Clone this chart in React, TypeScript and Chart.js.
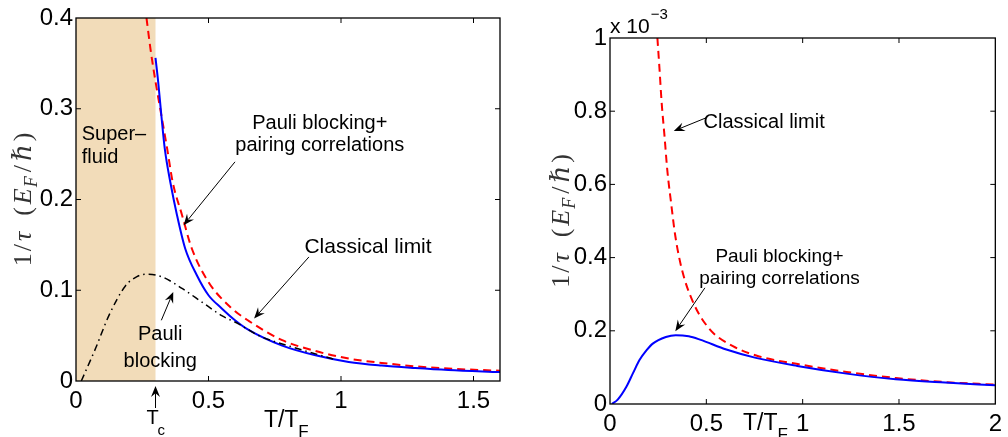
import { useEffect, useRef } from "react";
import { Chart, registerables } from "chart.js";

Chart.register(...registerables);

// ---------- Left panel: relaxation rate 1/τ in units of E_F/ħ ----------
const leftXTicks = [0, 0.5, 1, 1.5];
const leftYTicks = [0, 0.1, 0.2, 0.3, 0.4];
const criticalT = 0.3; // T_c / T_F, edge of the superfluid region

// Pauli blocking only (black dash-dot)
const leftPauliT = [0.02, 0.074, 0.124, 0.187, 0.23, 0.266, 0.325, 0.4, 0.475, 0.55, 0.613, 0.69, 0.816, 0.979];
const leftPauliRate = [0.0, 0.036, 0.072, 0.105, 0.115, 0.1176, 0.1147, 0.102, 0.087, 0.072, 0.063, 0.05, 0.0375, 0.0236];

// Pauli blocking + pairing correlations (blue)
const leftPairT = [0.3, 0.31, 0.322, 0.335, 0.356, 0.381, 0.412, 0.456, 0.5, 0.55, 0.6, 0.653, 0.778, 0.904, 1.029, 1.154, 1.28, 1.405, 1.6];
const leftPairRate = [0.356, 0.33, 0.293, 0.256, 0.219, 0.183, 0.146, 0.1165, 0.0945, 0.08, 0.067, 0.056, 0.039, 0.0283, 0.021, 0.017, 0.0143, 0.0121, 0.0098];

// Classical limit (red dashed)
const leftClassicalT = [0.266, 0.281, 0.3, 0.322, 0.344, 0.365, 0.4, 0.437, 0.5, 0.588, 0.653, 0.778, 0.904, 1.029, 1.154, 1.28, 1.405, 1.6];
const leftClassicalRate = [0.4, 0.366, 0.33, 0.293, 0.256, 0.219, 0.183, 0.146, 0.109, 0.08, 0.066, 0.045, 0.033, 0.0247, 0.0199, 0.0162, 0.0137, 0.0113];

// ---------- Right panel: values in units of 10^-3 E_F/ħ ----------
const rightXTicks = [0, 0.5, 1, 1.5, 2];
const rightYTicks = [0, 0.2, 0.4, 0.6, 0.8, 1];

const rightPairT = [0.01, 0.04, 0.085, 0.12, 0.153, 0.19, 0.222, 0.29, 0.341, 0.409, 0.467, 0.604, 0.757, 0.972, 1.228, 1.483, 1.739, 2.0];
const rightPairRate = [0.0, 0.012, 0.047, 0.085, 0.12, 0.147, 0.165, 0.183, 0.188, 0.185, 0.176, 0.149, 0.126, 0.104, 0.083, 0.0676, 0.0585, 0.051];

const rightClassicalT = [0.246, 0.257, 0.268, 0.283, 0.297, 0.317, 0.339, 0.373, 0.433, 0.518, 0.638, 0.774, 0.975, 1.228, 1.483, 1.739, 2.0];
const rightClassicalRate = [1.0, 0.915, 0.824, 0.732, 0.641, 0.55, 0.459, 0.368, 0.276, 0.204, 0.158, 0.13, 0.109, 0.0876, 0.0711, 0.06, 0.053];

const SANS = '"Liberation Sans", Arial, Helvetica, sans-serif';
const SERIF = '"Liberation Serif", "DejaVu Serif", serif';
const BLUE = "#0000ff";
const RED = "#ff0000";
const SUPERFLUID = "#f2dcb9";
const TICK_SIZE = 24;

type XY = [number, number];
type Note = { lines: string[]; at: XY; size: number; step: number; align: CanvasTextAlign };
type Pointer = { from: XY; to: XY };

const pts = (xs: number[], ys: number[]) => xs.map((x, i) => ({ x, y: ys[i] }));

function drawArrow(ctx: CanvasRenderingContext2D, x0: number, y0: number, x1: number, y1: number) {
  const ang = Math.atan2(y1 - y0, x1 - x0);
  const c = Math.cos(ang), s = Math.sin(ang);
  const head = 11, half = 4.5;
  const nx = x1 - head * 0.65 * c, ny = y1 - head * 0.65 * s;
  ctx.beginPath();
  ctx.moveTo(x0, y0);
  ctx.lineTo(nx, ny);
  ctx.lineWidth = 1;
  ctx.strokeStyle = "#000";
  ctx.stroke();
  const bx = x1 - head * c, by = y1 - head * s;
  ctx.beginPath();
  ctx.moveTo(x1, y1);
  ctx.lineTo(bx - half * s, by + half * c);
  ctx.lineTo(nx, ny);
  ctx.lineTo(bx + half * s, by - half * c);
  ctx.closePath();
  ctx.fillStyle = "#000";
  ctx.fill();
}

// y-axis title: 1/τ  (E_F/ħ), set like math text and rotated
function drawRateTitle(ctx: CanvasRenderingContext2D, cx: number, cy: number, size: number) {
  const parts = [
    { t: "1", it: false, sub: false, after: 2 },
    { t: "/", it: false, sub: false, after: 3 },
    { t: "τ", it: true, sub: false, after: 16 },
    { t: "(", it: false, sub: false, after: 3 },
    { t: "E", it: true, sub: false, after: 1 },
    { t: "F", it: true, sub: true, after: 4 },
    { t: "/", it: false, sub: false, after: 4 },
    { t: "ℏ", it: true, sub: false, after: 3 },
    { t: ")", it: false, sub: false, after: 0 },
  ];
  const fontOf = (p: { it: boolean; sub: boolean }) =>
    `${p.it ? "italic " : ""}${p.sub ? Math.round(size * 0.7) : size}px ${SERIF}`;
  ctx.save();
  let total = 0;
  for (const p of parts) {
    ctx.font = fontOf(p);
    total += ctx.measureText(p.t).width + p.after;
  }
  ctx.translate(cx, cy);
  ctx.rotate(-Math.PI / 2);
  ctx.fillStyle = "#333";
  ctx.textBaseline = "alphabetic";
  ctx.textAlign = "left";
  let x = -total / 2;
  const base = size * 0.33;
  for (const p of parts) {
    ctx.font = fontOf(p);
    ctx.fillText(p.t, x, p.sub ? base + size * 0.25 : base);
    x += ctx.measureText(p.t).width + p.after;
  }
  ctx.restore();
}

function drawFrame(chart: any, xTicks: number[], yTicks: number[]) {
  const { ctx, chartArea: a } = chart;
  const xs = chart.scales.x, ys = chart.scales.y;
  ctx.save();
  ctx.strokeStyle = "#000";
  ctx.lineWidth = 1.3;
  ctx.strokeRect(a.left, a.top, a.right - a.left, a.bottom - a.top);
  const L = 5;
  ctx.beginPath();
  for (const v of xTicks) {
    const px = xs.getPixelForValue(v);
    if (px <= a.left + 1 || px >= a.right - 1) continue;
    ctx.moveTo(px, a.bottom); ctx.lineTo(px, a.bottom - L);
    ctx.moveTo(px, a.top); ctx.lineTo(px, a.top + L);
  }
  for (const v of yTicks) {
    const py = ys.getPixelForValue(v);
    if (py <= a.top + 1 || py >= a.bottom - 1) continue;
    ctx.moveTo(a.left, py); ctx.lineTo(a.left + L, py);
    ctx.moveTo(a.right, py); ctx.lineTo(a.right - L, py);
  }
  ctx.lineWidth = 1;
  ctx.stroke();
  ctx.restore();
}

function drawNotes(chart: any, notes: Note[], pointers: Pointer[]) {
  const { ctx } = chart;
  const xs = chart.scales.x, ys = chart.scales.y;
  ctx.save();
  ctx.fillStyle = "#000";
  ctx.textBaseline = "alphabetic";
  for (const n of notes) {
    ctx.font = `${n.size}px ${SANS}`;
    ctx.textAlign = n.align;
    const px = xs.getPixelForValue(n.at[0]);
    const py = ys.getPixelForValue(n.at[1]);
    n.lines.forEach((line, i) => ctx.fillText(line, px, py + i * n.step));
  }
  for (const p of pointers) {
    drawArrow(
      ctx,
      xs.getPixelForValue(p.from[0]), ys.getPixelForValue(p.from[1]),
      xs.getPixelForValue(p.to[0]), ys.getPixelForValue(p.to[1])
    );
  }
  ctx.restore();
}

// "T/T_F" axis title
function drawTempTitle(ctx: CanvasRenderingContext2D, x: number, baseline: number) {
  ctx.save();
  ctx.fillStyle = "#000";
  ctx.textAlign = "left";
  ctx.textBaseline = "alphabetic";
  ctx.font = `23px ${SANS}`;
  ctx.fillText("T/T", x, baseline);
  const w = ctx.measureText("T/T").width;
  ctx.font = `17px ${SANS}`;
  ctx.fillText("F", x + w, baseline + 10);
  ctx.restore();
}

function axisOptions(min: number, max: number, ticks: number[], isX: boolean, fit: number, pad: number) {
  return {
    type: "linear",
    min,
    max,
    afterBuildTicks: (s: any) => {
      s.ticks = ticks.map((v) => ({ value: v }));
    },
    afterFit: (s: any) => {
      if (isX) s.height = fit;
      else s.width = fit;
    },
    grid: { display: false, drawTicks: false },
    border: { display: false },
    ticks: {
      autoSkip: false,
      maxRotation: 0,
      padding: pad,
      color: "#000",
      font: { family: SANS, size: TICK_SIZE },
      callback: (v: number) => String(v),
    },
  };
}

function lineSet(label: string, xs: number[], ys: number[], color: string, width: number, dash: number[]) {
  return {
    label,
    data: pts(xs, ys),
    borderColor: color,
    borderWidth: width,
    borderDash: dash,
    pointRadius: 0,
    fill: false,
    cubicInterpolationMode: "monotone",
  };
}

const leftNotes: Note[] = [
  { lines: ["Pauli blocking+", "pairing correlations"], at: [0.92, 0.2775], size: 20, step: 22, align: "center" },
  { lines: ["Classical limit"], at: [1.102, 0.1405], size: 21, step: 0, align: "center" },
  { lines: ["Pauli", "blocking"], at: [0.318, 0.0449], size: 20, step: 27, align: "center" },
  { lines: ["Super\u2013", "fluid"], at: [0.0214, 0.2654], size: 20, step: 23, align: "left" },
];
const leftPointers: Pointer[] = [
  { from: [0.6, 0.2415], to: [0.406, 0.1717] },
  { from: [0.879, 0.1367], to: [0.672, 0.0688] },
  { from: [0.322, 0.0669], to: [0.367, 0.0981] },
];

const rightNotes: Note[] = [
  { lines: ["Classical limit"], at: [0.8, 0.7543], size: 20, step: 0, align: "center" },
  { lines: ["Pauli blocking+", "pairing correlations"], at: [0.88, 0.3875], size: 19, step: 22, align: "center" },
];
const rightPointers: Pointer[] = [
  { from: [0.501, 0.7824], to: [0.331, 0.746] },
  { from: [0.4926, 0.3174], to: [0.339, 0.199] },
];

function LeftPanel() {
  const ref = useRef<HTMLCanvasElement>(null);
  useEffect(() => {
    const decor = {
      id: "leftDecor",
      beforeDatasetsDraw(chart: any) {
        const { ctx, chartArea: a } = chart;
        const x0 = chart.scales.x.getPixelForValue(0);
        const x1 = chart.scales.x.getPixelForValue(criticalT);
        ctx.save();
        ctx.fillStyle = SUPERFLUID;
        ctx.fillRect(x0, a.top, x1 - x0, a.bottom - a.top);
        ctx.restore();
      },
      afterDraw(chart: any) {
        const { ctx, chartArea: a } = chart;
        drawFrame(chart, leftXTicks, leftYTicks);
        drawNotes(chart, leftNotes, leftPointers);
        drawRateTitle(ctx, 22, (a.top + a.bottom) / 2, 26);
        // T_c marker below the axis
        const tcx = chart.scales.x.getPixelForValue(criticalT);
        drawArrow(ctx, tcx, a.bottom + 27, tcx, a.bottom + 5);
        ctx.save();
        ctx.fillStyle = "#000";
        ctx.textBaseline = "alphabetic";
        ctx.textAlign = "left";
        ctx.font = `20px ${SANS}`;
        ctx.fillText("T", tcx - 9, a.bottom + 43);
        ctx.font = `15px ${SANS}`;
        ctx.fillText("c", tcx + 2, a.bottom + 54);
        ctx.restore();
        drawTempTitle(ctx, chart.scales.x.getPixelForValue(0.709), a.bottom + 46);
      },
    };
    const chart = new Chart(ref.current as HTMLCanvasElement, {
      type: "line",
      data: {
        datasets: [
          lineSet("Pauli blocking", leftPauliT, leftPauliRate, "#000", 1.5, [7, 4, 1.5, 4]),
          lineSet("Pauli blocking+pairing correlations", leftPairT, leftPairRate, BLUE, 2, []),
          lineSet("Classical limit", leftClassicalT, leftClassicalRate, RED, 2, [8, 5]),
        ],
      } as any,
      options: {
        animation: false,
        responsive: false,
        devicePixelRatio: 1,
        layout: { padding: { top: 18, right: 40, bottom: 0, left: 0 } },
        plugins: { legend: { display: false }, tooltip: { enabled: false } },
        scales: {
          x: axisOptions(0, 1.6, leftXTicks, true, 56, 6),
          y: axisOptions(0, 0.4, leftYTicks, false, 76, 3),
        } as any,
      },
      plugins: [decor],
    });
    return () => chart.destroy();
  }, []);
  return <canvas ref={ref} width={540} height={437} style={{ position: "absolute", left: 0, top: 0 }} />;
}

function RightPanel() {
  const ref = useRef<HTMLCanvasElement>(null);
  useEffect(() => {
    const decor = {
      id: "rightDecor",
      afterDraw(chart: any) {
        const { ctx, chartArea: a } = chart;
        drawFrame(chart, rightXTicks, rightYTicks);
        drawNotes(chart, rightNotes, rightPointers);
        drawRateTitle(ctx, 20, (a.top + a.bottom) / 2, 26);
        drawTempTitle(ctx, chart.scales.x.getPixelForValue(0.69), a.bottom + 26);
        // exponent of the y values
        ctx.save();
        ctx.fillStyle = "#000";
        ctx.textAlign = "left";
        ctx.textBaseline = "alphabetic";
        ctx.font = `21px ${SANS}`;
        ctx.fillText("x 10", a.left, a.top - 5);
        const w = ctx.measureText("x 10").width;
        ctx.font = `15px ${SANS}`;
        ctx.fillText("\u22123", a.left + w + 1, a.top - 19);
        ctx.restore();
      },
    };
    const chart = new Chart(ref.current as HTMLCanvasElement, {
      type: "line",
      data: {
        datasets: [
          lineSet("Pauli blocking+pairing correlations", rightPairT, rightPairRate, BLUE, 2, []),
          lineSet("Classical limit", rightClassicalT, rightClassicalRate, RED, 2, [8, 5]),
        ],
      } as any,
      options: {
        animation: false,
        responsive: false,
        devicePixelRatio: 1,
        layout: { padding: { top: 38, right: 7, bottom: 0, left: 0 } },
        plugins: { legend: { display: false }, tooltip: { enabled: false } },
        scales: {
          x: axisOptions(0, 2, rightXTicks, true, 33, 6),
          y: axisOptions(0, 1, rightYTicks, false, 70, 3),
        } as any,
      },
      plugins: [decor],
    });
    return () => chart.destroy();
  }, []);
  return <canvas ref={ref} width={468} height={437} style={{ position: "absolute", left: 540, top: 0 }} />;
}

export default function App() {
  return (
    <div style={{ position: "absolute", left: 0, top: 0, width: 1008, height: 437, background: "#fff", overflow: "hidden" }}>
      <LeftPanel />
      <RightPanel />
    </div>
  );
}
